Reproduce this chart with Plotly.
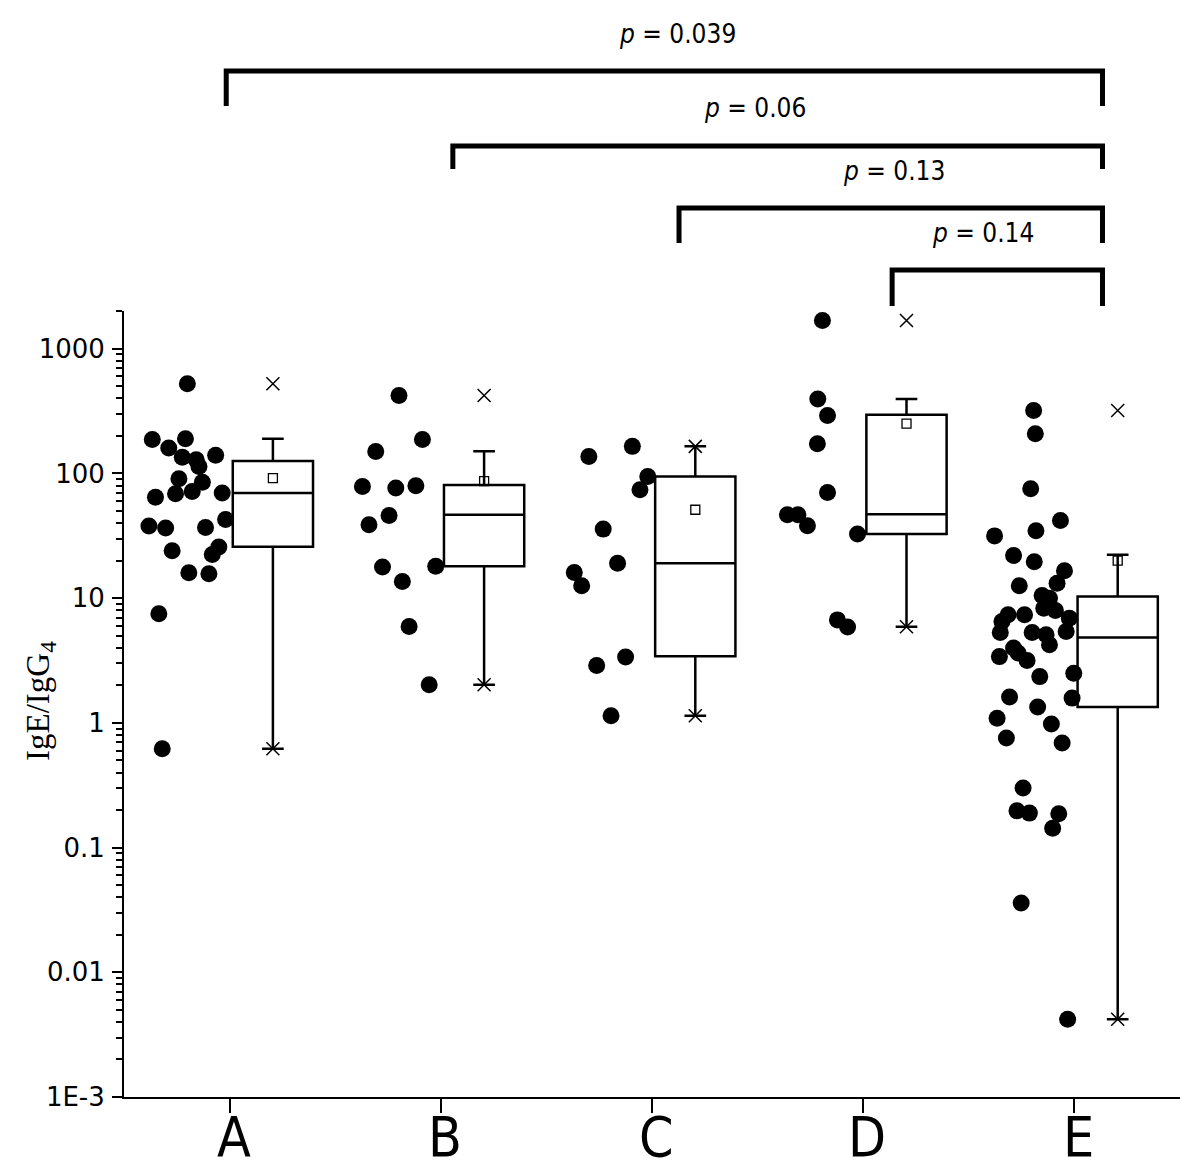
import plotly.graph_objects as go

# ---------------- data ----------------
groups = ["A", "B", "C", "D", "E"]

a_vals = [525, 187, 190, 160, 135, 129, 140, 114, 90.6, 85, 68.7, 71.8, 69.7, 64.6,
          38, 36.5, 36.9, 42.7, 24, 25.7, 22.4, 16, 15.7, 7.5, 0.62]
a_jit = [-0.200, -0.366, -0.209, -0.288, -0.224, -0.158, -0.066, -0.145, -0.240, -0.129,
         -0.256, -0.177, -0.035, -0.351, -0.382, -0.303, -0.114, -0.019, -0.272, -0.051,
         -0.082, -0.193, -0.098, -0.335, -0.319]

b_vals = [422, 187, 150, 78.7, 76.4, 79.7, 46, 38.8, 17.8, 18, 13.6, 5.93, 2.02]
b_jit = [-0.198, -0.087, -0.308, -0.371, -0.213, -0.118, -0.245, -0.340, -0.276, -0.024,
         -0.182, -0.150, -0.055]

c_vals = [165, 137, 94.6, 74, 35.8, 19.1, 16.1, 12.6, 3.37, 2.89, 1.14]
c_jit = [-0.093, -0.299, -0.020, -0.057, -0.231, -0.163, -0.368, -0.333, -0.125, -0.262, -0.194]

d_vals = [1687, 395, 292, 173, 70.5, 46.7, 46.7, 38.1, 32.7, 6.7, 5.87]
d_jit = [-0.193, -0.215, -0.169, -0.217, -0.169, -0.359, -0.309, -0.264, -0.027, -0.122, -0.074]

e_vals = [320, 208, 75.3, 42, 31.6, 34.7, 22, 19.6, 16.6, 13.2, 12.6, 10.5, 10.0, 8.3,
          7.96, 7.36, 7.36, 6.92, 6.5, 5.3, 5.3, 5.1, 5.4, 4.24, 3.4, 3.98, 3.63, 3.16,
          2.35, 2.5, 1.61, 1.58, 1.34, 1.09, 0.98, 0.755, 0.69, 0.30, 0.197, 0.189,
          0.187, 0.143, 0.0359, 0.0042]
e_jit = [-0.193, -0.185, -0.207, -0.066, -0.378, -0.182, -0.288, -0.190, -0.047, -0.082,
         -0.261, -0.153, -0.118, -0.145, -0.090, -0.314, -0.236, -0.024, -0.343, -0.351,
         -0.200, -0.134, -0.039, -0.118, -0.355, -0.288, -0.267, -0.224, -0.164, -0.003,
         -0.307, -0.011, -0.174, -0.366, -0.109, -0.322, -0.058, -0.243, -0.272, -0.213,
         -0.074, -0.103, -0.252, -0.032]

# box statistics
q1 = [25.9, 18, 3.42, 32.7, 1.34]
median = [69.7, 46.7, 19.1, 47.2, 4.84]
q3 = [126, 80.7, 94.6, 296, 10.3]
lowerfence = [0.62, 2.02, 1.14, 5.9, 0.0042]
upperfence = [190, 151, 165, 395, 22.3]
means = [91.8, 87, 51.2, 251, 20]
minimums = [0.62, 2.02, 1.14, 5.9, 0.0042]
maximums = [525, 422, 165, 1687, 320]

# pairwise comparisons (left group, right group, p label)
comp_left = ["A", "B", "C", "D"]
comp_right = ["E", "E", "E", "E"]
comp_p = ["0.039", "0.06", "0.13", "0.14"]

ytick_vals = [0.001, 0.01, 0.1, 1, 10, 100, 1000]
ytick_text = ["1E-3", "0.01", "0.1", "1", "10", "100", "1000"]

# ---------------- figure ----------------
W, H = 1200, 1172
PAGE_OFF = 8                      # default body margin of the html page
PL, PR, PT, PB = 124, 1180, 311, 1097   # plot area on screen
ML = PL - PAGE_OFF
MT = PT - PAGE_OFF
MR = W - (PR - PAGE_OFF)
MB = H - (PB - PAGE_OFF)
plot_h = PB - PT
plot_w = PR - PL


def py(pix):
    """screen pixel row -> paper y"""
    return (PB - pix) / plot_h


BOX_OFF = 0.205
all_vals = [a_vals, b_vals, c_vals, d_vals, e_vals]
all_jit = [a_jit, b_jit, c_jit, d_jit, e_jit]

fig = go.Figure()

# raw points
for gi, (vals, jit) in enumerate(zip(all_vals, all_jit)):
    fig.add_trace(go.Scatter(
        x=[gi + j for j in jit], y=vals, mode="markers",
        marker=dict(symbol="circle", size=17, color="black", line=dict(width=0)),
        showlegend=False, hoverinfo="y"))

box_x = [i + BOX_OFF for i in range(len(groups))]
fig.add_trace(go.Box(
    x=box_x, q1=q1, median=median, q3=q3,
    lowerfence=lowerfence, upperfence=upperfence,
    width=0.38, whiskerwidth=0.27, boxpoints=False,
    fillcolor="white", line=dict(color="black", width=2.5),
    showlegend=False))

# means
fig.add_trace(go.Scatter(
    x=box_x, y=means, mode="markers",
    marker=dict(symbol="square-open", size=9, color="black", line=dict(width=1.3)),
    showlegend=False))
# min / max crosses
fig.add_trace(go.Scatter(
    x=box_x + box_x, y=minimums + maximums, mode="markers",
    marker=dict(symbol="x-thin-open", size=13, color="black", line=dict(width=1.5)),
    showlegend=False))

# comparison brackets
br_left_x = [-0.016, 1.057, 2.128, 3.137]
br_right_x = 4.133
br_top = [71, 146, 208, 270]
br_leg = [106, 169, 243, 306]
txt_x = [2.123, 2.488, 3.147, 3.569]
txt_y = [34, 108, 171, 233]
for k in range(len(comp_p)):
    x0, x1 = br_left_x[k], br_right_x
    yt, yl = py(br_top[k]), py(br_leg[k])
    fig.add_shape(type="path", xref="x", yref="paper",
                  path=f"M {x0},{yl} L {x0},{yt} L {x1},{yt} L {x1},{yl}",
                  line=dict(color="black", width=5))
    fig.add_annotation(x=txt_x[k], y=py(txt_y[k]), xref="x", yref="paper",
                       text=f"<i>p</i> = {comp_p[k]}", showarrow=False,
                       xanchor="center", yanchor="middle",
                       font=dict(family="Liberation Sans Narrow, DejaVu Sans Condensed, Liberation Sans", size=26, color="black"))

# category labels
for gi, g in enumerate(groups):
    fig.add_annotation(x=gi + 0.02, y=py(1137), xref="x", yref="paper", text=g,
                       showarrow=False, xanchor="center", yanchor="middle",
                       font=dict(family="Liberation Sans Narrow, DejaVu Sans Condensed, Liberation Sans", size=55, color="black"))

# y-axis title
fig.add_annotation(x=(40 - PL) / plot_w, y=py(701), xref="paper", yref="paper",
                   text="IgE/IgG<sub>4</sub>", showarrow=False, textangle=-90,
                   xanchor="center", yanchor="middle",
                   font=dict(family="Liberation Serif, Times New Roman, serif", size=33, color="black"))

minor_vals = [m * 10 ** e for e in range(-3, 4) for m in range(2, 10)]

fig.update_layout(
    width=W, height=H,
    margin=dict(l=ML, r=MR, t=MT, b=MB),
    paper_bgcolor="white", plot_bgcolor="white",
    showlegend=False,
    xaxis=dict(range=[-0.5, 4.5], tickmode="array", tickvals=list(range(len(groups))),
               ticktext=["" for _ in groups], ticks="outside", ticklen=14, tickwidth=2, tickcolor="black",
               showline=True, linewidth=2, linecolor="black", showgrid=False, zeroline=False,
               automargin=False),
    yaxis=dict(type="log", range=[-3, 3.303], tickmode="array", tickvals=ytick_vals,
               ticktext=ytick_text, ticks="outside", ticklen=10, tickwidth=2, tickcolor="black",
               showline=True, linewidth=2, linecolor="black", showgrid=False, zeroline=False,
               ticklabelstandoff=2, automargin=False,
               minor=dict(tickmode="array", tickvals=minor_vals, ticks="outside", ticklen=6,
                          tickwidth=1.5, tickcolor="black", showgrid=False),
               tickfont=dict(family="DejaVu Sans, Verdana", size=26, color="black")),
)

fig.write_html("out.html")
